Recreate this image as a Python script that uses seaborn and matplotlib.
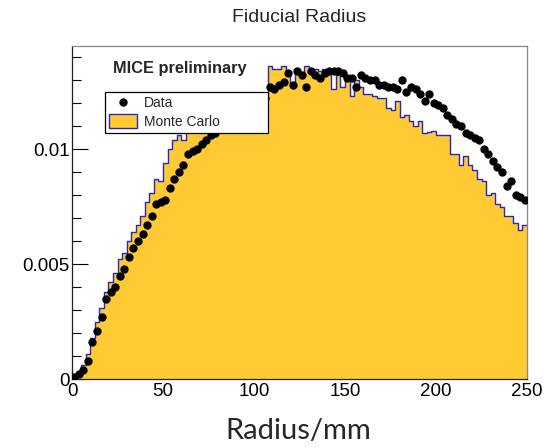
import numpy as np
import pandas as pd
import matplotlib
matplotlib.use("Agg")
import matplotlib.pyplot as plt
import seaborn as sns
from matplotlib.lines import Line2D
from matplotlib.patches import Patch

# ---- data (values in units of 1e-4) ----
bin_edges = [i * 2.5 for i in range(101)]
mc_values = [1, 3, 6, 11, 18, 25, 31, 38, 42, 46,
             52, 55, 60, 64, 67, 71, 77, 81, 87, 86,
             94, 100, 104, 106, 104, 108, 109, 110, 111, 112,
             113, 114, 115, 116, 117, 118, 119, 120, 121, 122,
             122, 123, 124, 136, 135, 135, 136, 134, 128, 135,
             131, 136, 135, 135, 134, 135, 134, 126, 132, 127,
             132, 123, 130, 127, 124, 124, 123, 122, 122, 118,
             117, 121, 114, 115, 112, 110, 112, 107, 107.5, 108,
             106, 106, 106, 98, 98, 93, 97, 93, 91, 87,
             86, 80, 81, 76, 75, 71, 71, 68, 65, 67]
data_values = [1, 2, 4, 8, 16, 21, 27, 35, 38, 40,
               45, 48, 53, 57, 60, 63, 67, 71, 76, 77,
               78, 83, 87, 90, 93, 98, 99, 100, 102, 104,
               106, 107, 109, 110, 111, 113, 114, 115, 117, 118,
               119, 121, 122, 127, 126, 128, 129, 133, 128, 134,
               132, 127, 134, 132, 131, 133, 134, 134, 134, 133,
               131, 131, 127, 132, 131, 130, 130, 128, 128, 127,
               127, 126, 130, 125, 127, 126, 124, 121, 124, 120,
               119, 118, 115, 113, 111, 110, 107, 106, 105, 104,
               100, 98, 95, 92, 90, 84, 86, 80, 79, 78]
x_ticks = [0, 50, 100, 150, 200, 250]
y_ticks = [0, 0.005, 0.01]
y_tick_labels = ["0", "0.005", "0.01"]

edges = np.array(bin_edges)
centers = (edges[:-1] + edges[1:]) / 2
mc = np.array(mc_values) * 1e-4
dat = np.array(data_values) * 1e-4
df = pd.DataFrame({"radius": centers, "mc": mc, "data": dat})

sns.set_style("ticks")
plt.rcParams["font.family"] = ["Liberation Sans", "DejaVu Sans"]

fig = plt.figure(figsize=(5.49, 4.48), dpi=100)
ax = fig.add_axes([72 / 549, 1 - 379 / 448, 455 / 549, 333 / 448])

gold = "#FFCA33"
blue = "#2626C8"
sns.histplot(x=df["radius"].to_numpy(), weights=df["mc"].to_numpy(), bins=bin_edges,
             element="step", fill=True, color=gold, alpha=1, linewidth=0, ax=ax, zorder=1)
sns.histplot(x=df["radius"].to_numpy(), weights=df["mc"].to_numpy(), bins=bin_edges,
             element="step", fill=False, color=blue, linewidth=1.0, ax=ax, zorder=2)
ax.errorbar(df["radius"], df["data"], xerr=1.25, fmt="none", ecolor="black",
            elinewidth=0.7, zorder=3)
sns.scatterplot(data=df, x="radius", y="data", color="black", s=36,
                edgecolor="black", linewidth=0, ax=ax, zorder=4)

ax.set_xlim(0, 250)
ax.set_ylim(0, 0.01448)
ax.set_xticks(x_ticks)
ax.set_xticklabels([str(t) for t in x_ticks])
ax.set_xticks(np.arange(0, 251, 10), minor=True)
ax.set_yticks(y_ticks)
ax.set_yticklabels(y_tick_labels)
ax.set_yticks(np.arange(0, 0.0145, 0.001), minor=True)
ax.tick_params(axis="both", which="both", direction="in", labelsize=13.5,
               colors="black", width=0.8)
ax.tick_params(axis="x", which="major", length=7.5, pad=3)
ax.tick_params(axis="x", which="minor", length=3.8)
ax.tick_params(axis="y", which="major", length=11.5, pad=1.5)
ax.tick_params(axis="y", which="minor", length=6.5)
ax.set_xlabel("")
ax.set_ylabel("")
for s in ["left", "bottom"]:
    ax.spines[s].set_color("#222222")
    ax.spines[s].set_linewidth(0.9)
for s in ["top", "right"]:
    ax.spines[s].set_visible(True)
    ax.spines[s].set_color("#888888")
    ax.spines[s].set_linewidth(0.9)

ax.text(0.090, 0.919, "MICE preliminary", transform=ax.transAxes,
        fontsize=11.8, fontweight="bold", va="baseline", ha="left", zorder=6)

handles = [Line2D([0], [0], marker="o", color="black", linestyle="none",
                  markersize=5),
           Patch(facecolor=gold, edgecolor=blue, linewidth=1)]
leg = ax.legend(handles, ["Data", "Monte Carlo"], loc="upper left",
                bbox_to_anchor=(0.0725, 0.7357, 0.3583, 0.127), mode="expand",
                borderaxespad=0, fontsize=10, frameon=True, fancybox=False,
                edgecolor="black", framealpha=1, borderpad=0.3,
                labelspacing=0.3, handlelength=2.0, handleheight=1.1,
                handletextpad=0.5)
leg.get_frame().set_linewidth(0.9)
leg.set_zorder(7)

fig.text(0.545, 0.962, "Fiducial Radius", ha="center", va="center", fontsize=14)
fig.text(0.543, 0.019, "Radius/mm", ha="center", va="baseline", fontsize=21,
         family=["Lato", "DejaVu Sans"])

fig.savefig("out.png", dpi=100)
